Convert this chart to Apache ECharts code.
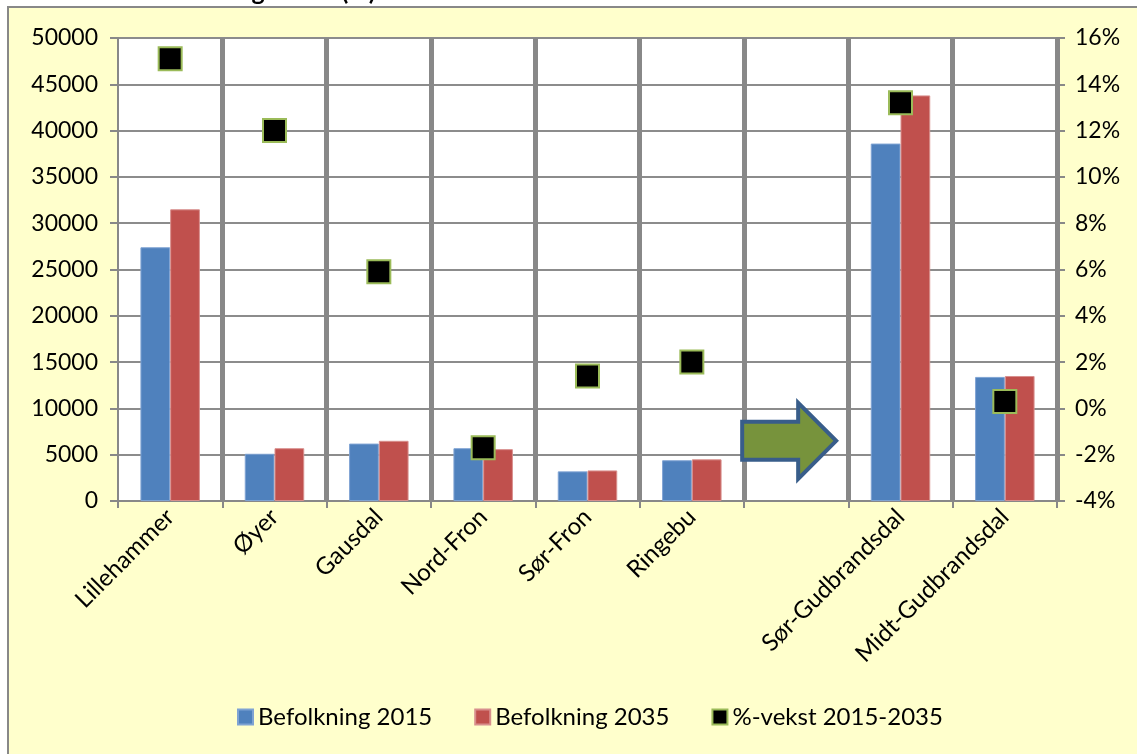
<!DOCTYPE html>
<html>
<head>
<meta charset="utf-8">
<script src="https://cdn.jsdelivr.net/npm/echarts@6/dist/echarts.min.js"></script>
<style>
  html, body { margin: 0; padding: 0; background: #fff; }
  #main { width: 1137px; height: 754px; }
</style>
</head>
<body>
<div id="main"></div>
<script>
// data
var categories = ["Lillehammer", "Øyer", "Gausdal", "Nord-Fron", "Sør-Fron", "Ringebu", "", "Sør-Gudbrandsdal", "Midt-Gudbrandsdal"];
var pop2015 = [27400, 5100, 6200, 5700, 3200, 4400, null, 38600, 13400];
var pop2035 = [31500, 5700, 6500, 5600, 3300, 4500, null, 43800, 13500];
var growth = [15.1, 12.0, 5.9, -1.7, 1.4, 2.0, null, 13.2, 0.3];
var leftTicks = { min: 0, max: 50000, interval: 5000 };
var rightTicks = { min: -4, max: 16, interval: 2 };

var FONT = "Lato";
var chartDom = document.getElementById("main");
var myChart = echarts.init(chartDom);
var option;

option = {
  backgroundColor: "#fff",
  animation: false,
  textStyle: { fontFamily: FONT, color: "#000" },
  grid: {
    left: 118,
    right: 80,
    top: 38,
    bottom: 253,
    show: true,
    backgroundColor: "#fff",
    borderWidth: 0,
  },
  legend: {
    bottom: 20,
    left: 232,
    itemGap: 42,
    itemWidth: 15,
    itemHeight: 15,
    textStyle: { fontFamily: FONT, fontSize: 24, color: "#000" },
    data: [
      { name: "Befolkning 2015", icon: "rect" },
      { name: "Befolkning 2035", icon: "rect" },
      { name: "%-vekst 2015-2035", icon: "rect", itemStyle: { color: "#000", borderColor: "#9BBB59", borderWidth: 2 } },
    ],
  },
  xAxis: {
    type: "category",
    data: categories,
    axisLine: { lineStyle: { color: "#888", width: 2 } },
    axisTick: { show: true, length: 7, lineStyle: { color: "#888", width: 2 } },
    splitLine: {
      show: true,
      interval: function (i) { return i > 0; },
      lineStyle: { color: "#888", width: 5 },
    },
    axisLabel: {
      rotate: 45,
      interval: 0,
      margin: 12,
      fontSize: 24,
      fontFamily: FONT,
      color: "#000",
    },
  },
  yAxis: [
    {
      type: "value",
      min: leftTicks.min,
      max: leftTicks.max,
      interval: leftTicks.interval,
      axisLine: { show: true, lineStyle: { color: "#888", width: 2 } },
      axisTick: { show: true, length: 8, lineStyle: { color: "#888", width: 2 } },
      splitLine: { show: true, lineStyle: { color: "#8c8c8c", width: 2 } },
      axisLabel: {
        fontSize: 23,
        fontFamily: FONT,
        color: "#000",
        margin: 20,
        formatter: function (v) { return String(v); },
      },
    },
    {
      type: "value",
      min: rightTicks.min,
      max: rightTicks.max,
      interval: rightTicks.interval,
      axisLine: { show: true, lineStyle: { color: "#888", width: 2 } },
      axisTick: { show: true, length: 8, lineStyle: { color: "#888", width: 2 } },
      splitLine: { show: false },
      axisLabel: {
        fontSize: 23,
        fontFamily: FONT,
        color: "#000",
        margin: 18,
        formatter: "{value}%",
      },
    },
  ],
  series: [
    {
      name: "Befolkning 2015",
      type: "bar",
      data: pop2015,
      barGap: "0%",
      barCategoryGap: "43%",
      itemStyle: { color: "#4F81BD", borderColor: "#7FA3D3", borderWidth: 1 },
    },
    {
      name: "Befolkning 2035",
      type: "bar",
      data: pop2035,
      itemStyle: { color: "#C0504D", borderColor: "#D88F8D", borderWidth: 1 },
    },
    {
      name: "%-vekst 2015-2035",
      type: "scatter",
      yAxisIndex: 1,
      data: growth,
      symbol: "rect",
      symbolSize: 23,
      z: 5,
      itemStyle: { color: "#000", borderColor: "#9BBB59", borderWidth: 2, opacity: 1 },
    },
  ],
};

option && myChart.setOption(option);

// frame, cut-off title and the arrow in the empty column
var c = myChart.convertToPixel({ xAxisIndex: 0 }, 6);
var cy = myChart.convertToPixel({ yAxisIndex: 1 }, -1.4);
myChart.setOption({
  graphic: [
    {
      type: "rect",
      z: -10,
      silent: true,
      shape: { x: 8, y: 7, width: 1160, height: 800 },
      style: { fill: "#FFFFCC", stroke: "#888", lineWidth: 2 },
    },
    {
      type: "text",
      x: 145,
      y: 4,
      style: {
        text: "Befolkningsvekst (%) 2015-2035",
        fontFamily: FONT,
        fontWeight: "bold",
        fontSize: 25,
        fill: "#000",
        verticalAlign: "bottom",
      },
    },
    {
      type: "polygon",
      z: 10,
      shape: {
        points: [
          [c - 54, cy - 19],
          [c + 2, cy - 19],
          [c + 2, cy - 38],
          [c + 40, cy],
          [c + 2, cy + 38],
          [c + 2, cy + 19],
          [c - 54, cy + 19],
        ],
      },
      style: { fill: "#77933C", stroke: "#385D8A", lineWidth: 4 },
    },
  ],
});
</script>
</body>
</html>
